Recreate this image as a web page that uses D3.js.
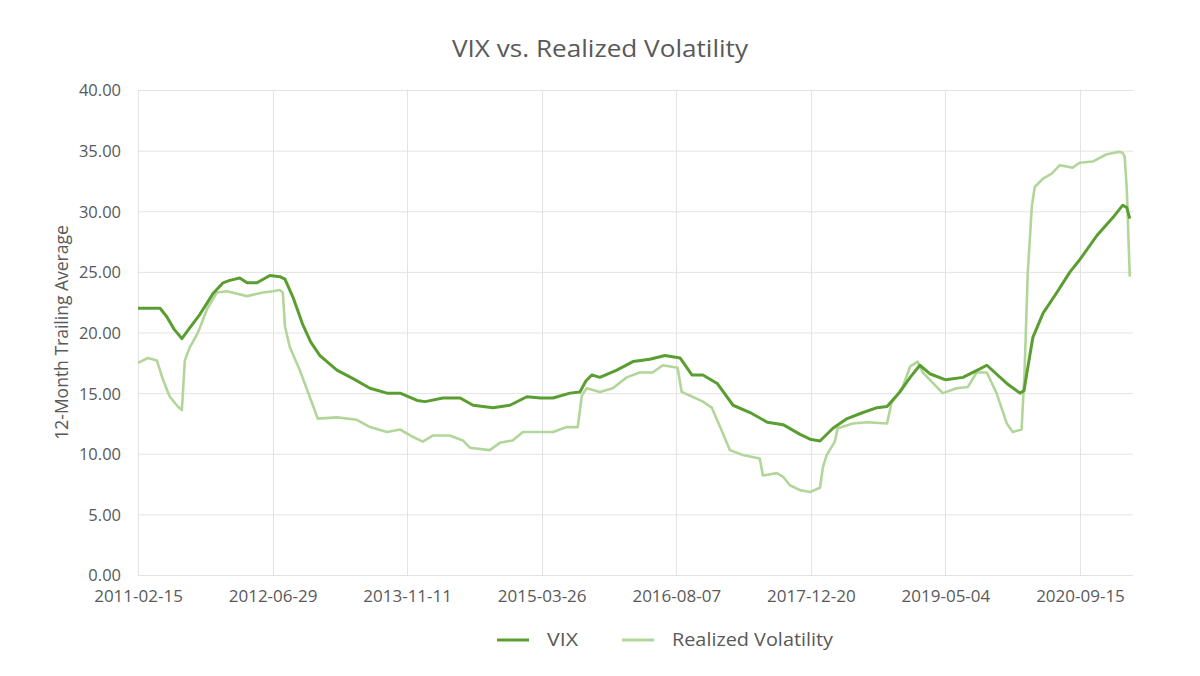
<!DOCTYPE html>
<html>
<head>
<meta charset="utf-8">
<script src="https://cdn.jsdelivr.net/npm/d3@7"></script>
<style>
  html, body { margin: 0; padding: 0; background: #fff; }
  svg { display: block; }
  text { font-family: "Open Sans", "DejaVu Sans", sans-serif; fill: #595959; }
</style>
</head>
<body>
<svg id="chart" width="1200" height="676"></svg>
<script>
const title = "VIX vs. Realized Volatility";
const yAxisTitle = "12-Month Trailing Average";
const seriesNames = ["VIX", "Realized Volatility"];
const xStart = "2011-02-15";
const xEnd = "2021-03-31";
const tickStepDays = 500;
const yTicks = [0, 5, 10, 15, 20, 25, 30, 35, 40];

const vixDates = [
  "2011-02-15","2011-03-31","2011-05-08","2011-06-02","2011-06-28","2011-07-28","2011-08-27","2011-10-03",
  "2011-10-29","2011-11-20","2011-12-28","2012-01-22","2012-02-28","2012-03-26","2012-05-02","2012-06-19",
  "2012-07-26","2012-08-14","2012-09-13","2012-10-20","2012-11-18","2012-12-22","2013-02-23","2013-04-24",
  "2013-06-26","2013-08-28","2013-10-16","2013-12-18","2014-01-17","2014-03-24","2014-05-27","2014-07-14",
  "2014-09-26","2014-11-28","2015-01-30","2015-03-22","2015-05-07","2015-07-09","2015-08-15","2015-09-06",
  "2015-09-28","2015-10-28","2015-12-30","2016-02-28","2016-05-01","2016-06-26","2016-08-21","2016-10-04",
  "2016-11-14","2017-01-06","2017-03-06","2017-05-08","2017-07-11","2017-09-08","2017-11-10","2017-12-17",
  "2018-01-23","2018-03-12","2018-05-04","2018-07-02","2018-08-23","2018-09-29","2018-11-16","2018-12-24",
  "2019-01-29","2019-03-07","2019-05-05","2019-07-08","2019-08-22","2019-10-05","2019-12-18","2020-02-05",
  "2020-02-20","2020-03-02","2020-03-24","2020-05-01","2020-06-21","2020-08-09","2020-09-14","2020-11-17",
  "2021-01-16","2021-02-21","2021-03-08","2021-03-19"
];
const vixValues = [
  22.0, 22.0, 22.0, 21.3, 20.3, 19.5, 20.4, 21.5,
  22.4, 23.2, 24.1, 24.3, 24.5, 24.1, 24.1, 24.7,
  24.6, 24.4, 22.9, 20.6, 19.2, 18.1, 16.9, 16.2,
  15.4, 15.0, 15.0, 14.4, 14.3, 14.6, 14.6, 14.0,
  13.8, 14.0, 14.7, 14.6, 14.6, 15.0, 15.1, 16.0,
  16.5, 16.3, 16.9, 17.6, 17.8, 18.1, 17.9, 16.5,
  16.5, 15.8, 14.0, 13.4, 12.6, 12.4, 11.6, 11.2,
  11.05, 12.1, 12.9, 13.4, 13.8, 13.9, 15.1, 16.3,
  17.3, 16.6, 16.1, 16.3, 16.8, 17.3, 15.8, 15.0,
  15.2, 16.7, 19.6, 21.6, 23.3, 25.0, 26.0, 28.0,
  29.5, 30.5, 30.3, 29.4
];

const rvDates = [
  "2011-02-15","2011-03-24","2011-04-26","2011-05-19","2011-06-13","2011-07-13","2011-07-28","2011-08-08",
  "2011-08-27","2011-09-26","2011-10-29","2011-12-05","2012-01-11","2012-03-26","2012-05-24","2012-06-30",
  "2012-07-26","2012-08-06","2012-08-14","2012-09-01","2012-10-08","2012-11-14","2012-12-14","2013-02-23",
  "2013-05-08","2013-06-26","2013-08-28","2013-10-16","2013-12-02","2014-01-08","2014-02-14","2014-04-18",
  "2014-06-06","2014-07-02","2014-09-14","2014-10-21","2014-12-08","2015-01-15","2015-05-07","2015-06-27",
  "2015-08-07","2015-08-22","2015-09-09","2015-10-28","2015-12-15","2016-02-05","2016-03-24","2016-05-11",
  "2016-06-18","2016-08-12","2016-08-27","2016-09-26","2016-11-14","2016-12-17","2017-01-17","2017-02-22",
  "2017-04-11","2017-06-13","2017-06-25","2017-08-16","2017-09-08","2017-10-03","2017-11-10","2017-12-17",
  "2018-01-23","2018-02-03","2018-02-17","2018-03-19","2018-03-30","2018-05-25","2018-07-16","2018-09-29",
  "2018-10-16","2018-11-26","2018-12-24","2019-01-21","2019-02-09","2019-04-24","2019-06-15","2019-07-26",
  "2019-08-28","2019-10-05","2019-11-10","2019-12-18","2020-01-09","2020-02-11","2020-02-22","2020-03-05",
  "2020-03-20","2020-03-31","2020-05-01","2020-06-02","2020-07-02","2020-08-19","2020-09-14","2020-11-01",
  "2020-12-23","2021-02-10","2021-02-21","2021-02-28","2021-03-08","2021-03-19"
];
const rvValues = [
  17.5, 17.9, 17.7, 16.1, 14.7, 13.9, 13.6, 17.7,
  18.8, 20.0, 21.9, 23.3, 23.4, 23.0, 23.3, 23.4,
  23.5, 23.3, 20.5, 18.8, 16.9, 14.7, 12.9, 13.0,
  12.8, 12.2, 11.8, 12.0, 11.4, 11.0, 11.5, 11.5,
  11.1, 10.5, 10.3, 10.9, 11.1, 11.8, 11.8, 12.2,
  12.2, 14.8, 15.4, 15.1, 15.4, 16.3, 16.7, 16.7,
  17.3, 17.1, 15.1, 14.8, 14.3, 13.8, 12.2, 10.3,
  9.9, 9.6, 8.2, 8.4, 8.1, 7.4, 7.0, 6.85,
  7.2, 8.9, 9.9, 11.0, 12.1, 12.5, 12.6, 12.5,
  14.2, 15.5, 17.2, 17.6, 16.7, 15.0, 15.4, 15.5,
  16.7, 16.7, 15.0, 12.5, 11.8, 12.0, 16.7, 24.9,
  30.4, 32.0, 32.7, 33.1, 33.8, 33.6, 34.0, 34.1,
  34.7, 34.9, 34.8, 34.5, 31.8, 24.6
];

const colors = { vix: "#5a9e32", rv: "#b2d69a", grid: "#e3e3e3" };

const parse = d3.utcParse("%Y-%m-%d");
const fmt = d3.utcFormat("%Y-%m-%d");
const vix = vixDates.map((d, i) => ({ date: parse(d), value: vixValues[i] }));
const rv = rvDates.map((d, i) => ({ date: parse(d), value: rvValues[i] }));

const svg = d3.select("#chart");
const W = 1200, H = 676;
const margin = { left: 138, right: W - 1133, top: 90, bottom: H - 575 };

const x = d3.scaleUtc().domain([parse(xStart), parse(xEnd)]).range([margin.left, W - margin.right]);
const y = d3.scaleLinear().domain([0, 40]).range([H - margin.bottom, margin.top]);

const xTicks = d3.range(0, 8).map(k => d3.utcDay.offset(parse(xStart), k * tickStepDays));

// gridlines
const g = svg.append("g");
g.selectAll("line.h").data(yTicks).join("line")
  .attr("x1", x.range()[0]).attr("x2", x.range()[1])
  .attr("y1", d => y(d) + 0.5).attr("y2", d => y(d) + 0.5)
  .attr("stroke", colors.grid).attr("stroke-width", 1);
g.selectAll("line.v").data(xTicks).join("line")
  .attr("x1", d => Math.round(x(d)) + 0.5).attr("x2", d => Math.round(x(d)) + 0.5)
  .attr("y1", y(40)).attr("y2", y(0))
  .attr("stroke", colors.grid).attr("stroke-width", 1);

// axes (labels only)
const yAxis = d3.axisLeft(y).tickValues(yTicks).tickFormat(d3.format(".2f")).tickSize(0).tickPadding(17);
const ya = svg.append("g").attr("transform", `translate(${margin.left},0)`).call(yAxis);
ya.select(".domain").remove();
ya.selectAll("text").style("font-size", "16.5px").attr("fill", "#595959").attr("dy", "0.36em");

const xAxis = d3.axisBottom(x).tickValues(xTicks).tickFormat(fmt).tickSize(0).tickPadding(15);
const xa = svg.append("g").attr("transform", `translate(0,${y(0)})`).call(xAxis);
xa.select(".domain").remove();
xa.selectAll("text").style("font-size", "17px").attr("fill", "#595959");

// lines
const line = d3.line().x(d => x(d.date)).y(d => y(d.value)).curve(d3.curveLinear);
svg.append("path").datum(rv).attr("d", line)
  .attr("fill", "none").attr("stroke", colors.rv).attr("stroke-width", 2.6).attr("stroke-linejoin", "round");
svg.append("path").datum(vix).attr("d", line)
  .attr("fill", "none").attr("stroke", colors.vix).attr("stroke-width", 3).attr("stroke-linejoin", "round");

// title
svg.append("text").attr("x", 600).attr("y", 57).attr("text-anchor", "middle")
  .style("font-size", "24px").attr("textLength", 296).attr("lengthAdjust", "spacingAndGlyphs")
  .attr("fill", "#404040").text(title);

// y axis title
svg.append("text").attr("transform", `translate(68,${(y(0) + y(40)) / 2}) rotate(-90)`)
  .attr("text-anchor", "middle").style("font-size", "17.5px").attr("fill", "#404040").text(yAxisTitle);

// legend
const legend = [
  { name: seriesNames[0], color: colors.vix, x0: 497, len: 31 },
  { name: seriesNames[1], color: colors.rv, x0: 622, len: 161 }
];
const lg = svg.append("g");
legend.forEach(l => {
  lg.append("line").attr("x1", l.x0).attr("x2", l.x0 + 32).attr("y1", 640).attr("y2", 640)
    .attr("stroke", l.color).attr("stroke-width", 3);
  lg.append("text").attr("x", l.x0 + 50).attr("y", 640).attr("dy", "0.35em")
    .style("font-size", "18px").attr("textLength", l.len).attr("lengthAdjust", "spacingAndGlyphs")
    .attr("fill", "#404040").text(l.name);
});
</script>
</body>
</html>
